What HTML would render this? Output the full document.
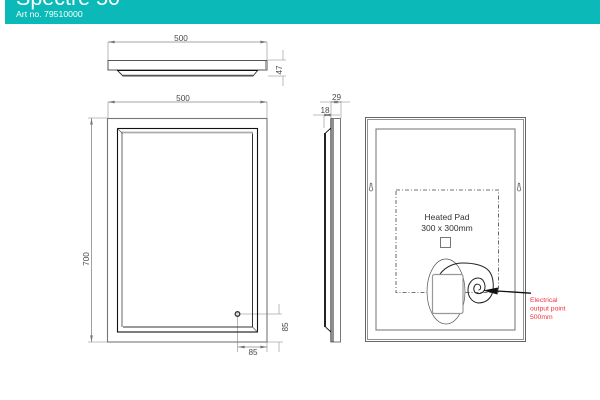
<!DOCTYPE html>
<html><head><meta charset="utf-8"><style>
html,body{margin:0;padding:0;background:#fff;width:600px;height:400px;overflow:hidden}
svg{display:block}
text{font-family:"Liberation Sans",sans-serif}
</style></head><body>
<svg width="600" height="400" viewBox="0 0 600 400" xmlns="http://www.w3.org/2000/svg">
<defs>
<marker id="a" viewBox="0 0 10 6" refX="10" refY="3" markerWidth="7" markerHeight="4" markerUnits="userSpaceOnUse" orient="auto-start-reverse"><path d="M0 1L10 3L0 5Z" fill="#777"/></marker>
</defs>
<rect x="5" y="0" width="595" height="24" fill="#0bbab8"/>
<text x="16" y="5" font-size="21.500" fill="#fff">Spectre 50</text>
<text x="16" y="17" font-size="8.700" fill="#fff">Art no. 79510000</text>

<!-- extension lines -->
<g fill="none" stroke="#aaa" stroke-width="0.800">
<path d="M108 42V60M267 42V60M108 102V118M267 102V118M88 118H107M88 342H107M268 76H286M268 60H286"/>
<path d="M237.500 316V352M267 342V352M239 314H282M267 342H283"/>
<path d="M331 101V118M341 101V118M324 115V128"/>
<path d="M320 102H331M341 102H350M313 115H324M331 115H340"/>
<path d="M283 50V60M283 76V86M279 304V314M279 342V352"/>
</g>
<!-- dimension lines -->
<g fill="none" stroke="#888" stroke-width="0.800" marker-start="url(#a)" marker-end="url(#a)">
<path d="M108 42H267" marker-start="url(#a)" marker-end="url(#a)"/>
<path d="M108 102H267" marker-start="url(#a)" marker-end="url(#a)"/>
<path d="M91.500 118V342" marker-start="url(#a)" marker-end="url(#a)"/>
<path d="M238 347H267" marker-start="url(#a)" marker-end="url(#a)"/>
<path d="M331 102H341"/>
<path d="M324 115H331"/>
</g>
<g fill="#4a4a4a" font-size="8.200" text-anchor="middle">
<text x="181" y="41">500</text>
<text x="183" y="101">500</text>
<text x="253" y="355">85</text>
<text x="336.500" y="100">29</text>
<text x="325" y="113">18</text>
<text transform="translate(89 259) rotate(-90)">700</text>
<text transform="translate(282 70) rotate(-90)">47</text>
<text transform="translate(288 327) rotate(-90)">85</text>
</g>

<!-- top view -->
<g fill="none">
<rect x="108" y="60.500" width="159" height="9.500" stroke="#555" stroke-width="1"/>
<path d="M117 70L123 76H253L258 70" stroke="#333" stroke-width="0.900"/>
<path d="M117 70.500H258" stroke="#111" stroke-width="1"/>
<path d="M123 75.500H253" stroke="#555" stroke-width="1.500"/>
<path d="M265.500 61V69" stroke="#aaa"/>
</g>

<!-- front view -->
<g fill="none">
<rect x="107.500" y="118.500" width="159.500" height="223.500" stroke="#777" stroke-width="1.100"/>
<rect x="117.500" y="128.500" width="140" height="203.500" stroke="#111" stroke-width="1.100"/>
<path d="M122 327V132.500H253" stroke="#aaa" stroke-width="1.800"/>
<path d="M123 327H252.500V133.500" stroke="#333" stroke-width="1"/>
<path d="M117.500 128.500L122.500 133.500M257.500 332L252.500 327" stroke="#555" stroke-width="0.700"/>
<circle cx="237.500" cy="314" r="2.300" stroke="#333" stroke-width="1.300" fill="#ddd"/>
</g>

<!-- side view -->
<g fill="none">
<rect x="331" y="118.500" width="9.500" height="223.500" stroke="#777" stroke-width="1"/>
<path d="M325 133V327" stroke="#222" stroke-width="2"/>
<path d="M325.500 133L331 128M325.500 327L331 332" stroke="#222" stroke-width="1"/>
<path d="M331 118.500V342" stroke="#111" stroke-width="1"/>
<path d="M333 119V342" stroke="#222" stroke-width="1"/>
</g>

<!-- back view -->
<g fill="none">
<rect x="365.500" y="117.500" width="160" height="224" stroke="#555" stroke-width="0.900"/>
<rect x="367.500" y="119.500" width="156" height="220" stroke="#777" stroke-width="0.800"/>
<rect x="376" y="129" width="139" height="201" stroke="#888" stroke-width="1.200"/>
<rect x="396" y="190" width="102.500" height="102.500" stroke="#444" stroke-width="0.800" stroke-dasharray="4 2 1 2"/>
<path d="M369.500 188.500a1.700 1.700 0 1 0 3 0l-.7-2.500v-2a.8.8 0 0 0-1.600 0v2z" stroke="#666" stroke-width="0.800"/>
<path d="M517.500 188.500a1.700 1.700 0 1 0 3 0l-.7-2.500v-2a.8.8 0 0 0-1.600 0v2z" stroke="#666" stroke-width="0.800"/>
<rect x="440.500" y="237.500" width="10" height="10" stroke="#555" stroke-width="0.800"/>
<ellipse cx="446" cy="291.500" rx="19" ry="32.500" fill="#fff" stroke="#555" stroke-width="0.700"/>
<rect x="432.500" y="274.500" width="30.500" height="39" rx="2" fill="#fff" stroke="#999" stroke-width="1.200"/>
<path d="M440 274C446 266 455 263 463 263C473 263 484 265 489 271C494 277 494 288 492 294C489 301 483 303 478 303C472 302 468 297 468 290C468 283 473 278 478 278C483 278 485 283 485 287C485 292 481 294 477.500 293.500C474 293 473 289 474.500 286C476 283.500 479.500 283.500 480.500 286.500C481 288.500 480 290 478.500 290" stroke="#222" stroke-width="1"/>
</g>
<path d="M531 293.200L497 291" stroke="#111" stroke-width="1.300"/>
<path d="M483 290.500L498 287.500L497.500 294.500Z" fill="#111"/>
<g fill="#333" font-size="8.500" text-anchor="middle">
<text x="447" y="220">Heated Pad</text>
<text x="447" y="231">300 x 300mm</text>
</g>
<g fill="#f0303c" font-size="6.800">
<text x="530" y="302">Electrical</text>
<text x="530" y="310.500">output point</text>
<text x="530" y="319">500mm</text>
</g>
</svg>
</body></html>
